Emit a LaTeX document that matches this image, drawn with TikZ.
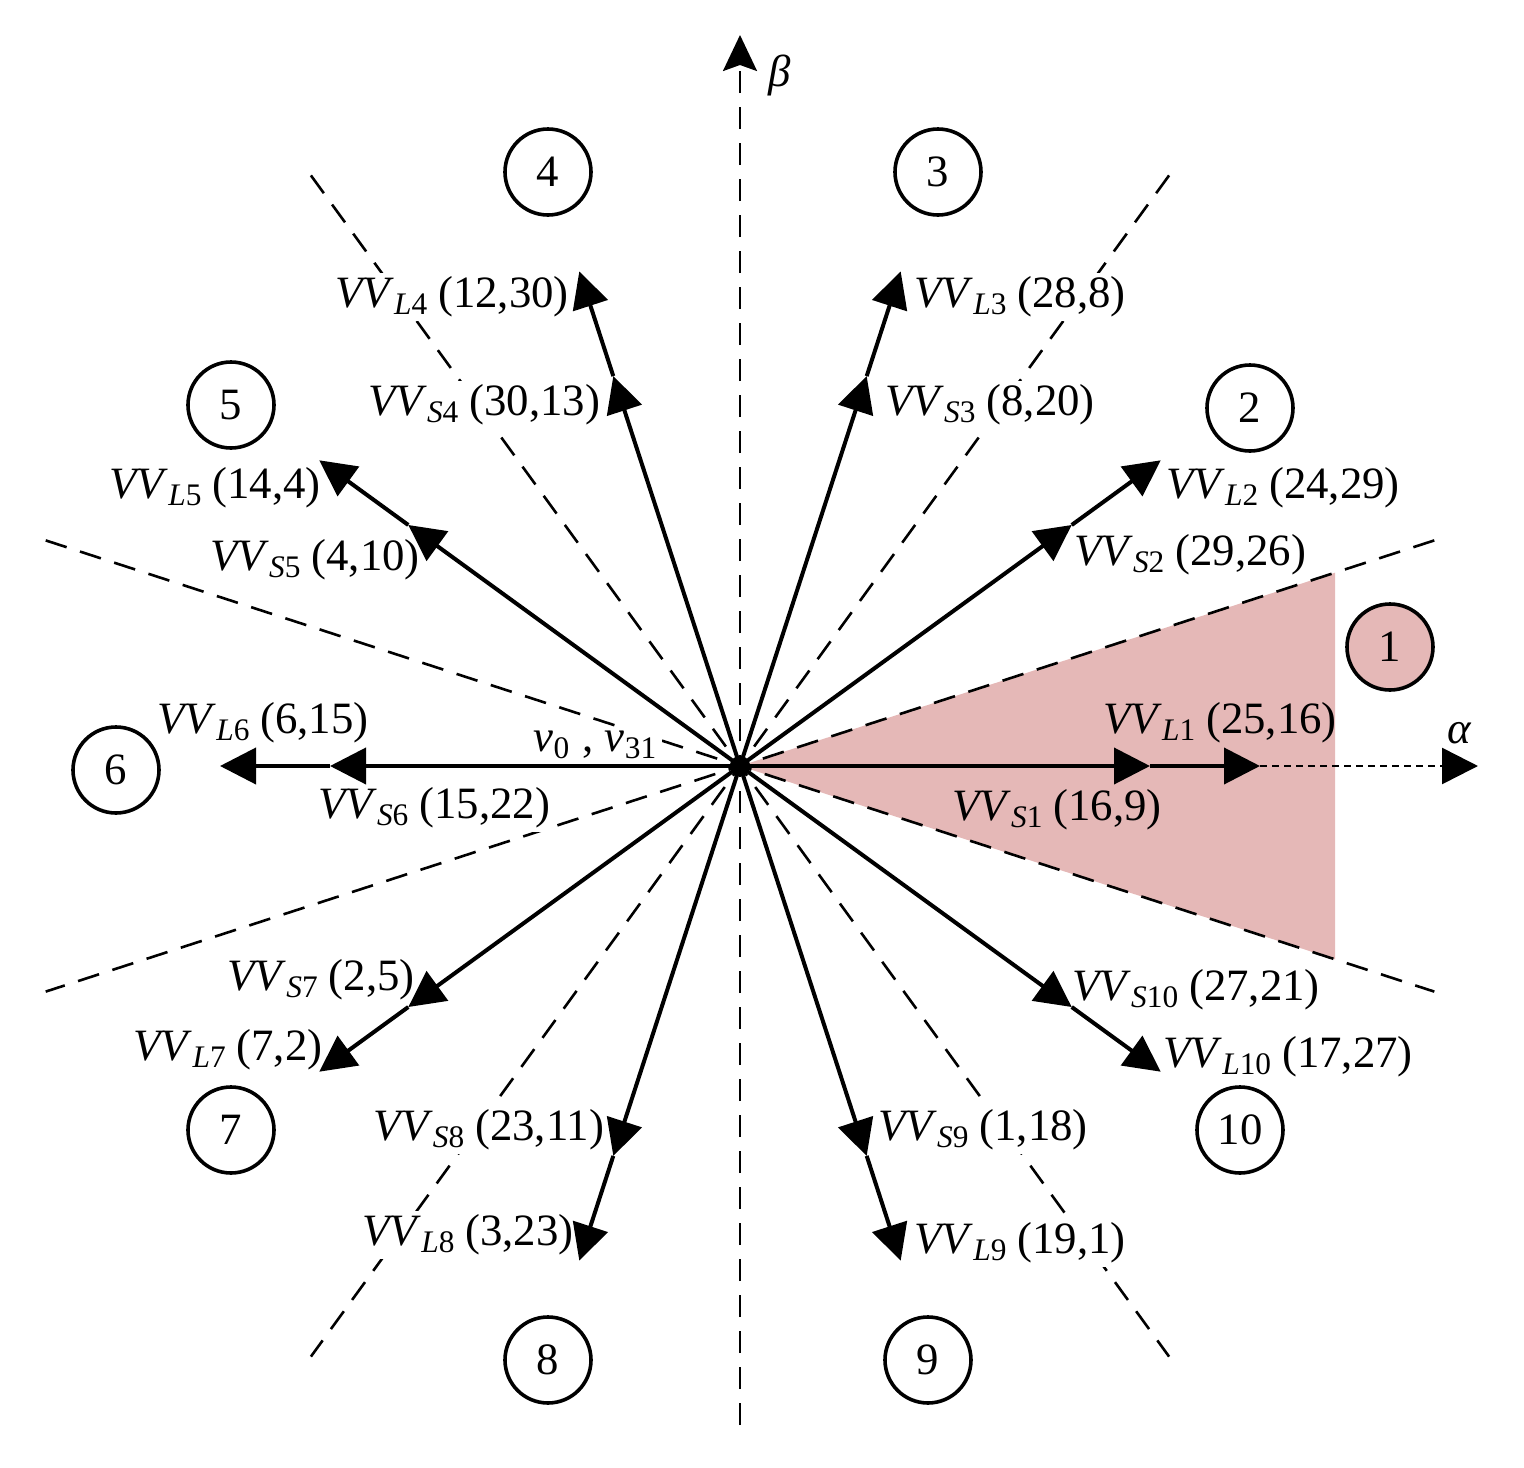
\documentclass[tikz,border=0pt]{standalone}
\usepackage{fontspec}
\setmainfont{Liberation Serif}
\usepackage{tikz}
\usetikzlibrary{arrows.meta}

\definecolor{sectorpink}{RGB}{229,184,183}
\newcommand{\vvlab}[3]{\textit{VV}\textsubscript{\textit{#1}#2}\hspace{0.2em}(#3)}

\begin{document}
\begin{tikzpicture}[x=0.25pt,y=0.25pt,yscale=-1,xscale=1,
    font=\fontsize{11.2}{13}\selectfont,
    vec/.style={line width=1pt,-{Triangle[length=9pt,width=9pt]}},
    sector/.style={line width=0.65pt,dash pattern=on 5.5pt off 3.5pt},
    lbl/.style={inner sep=1pt,fill=white},
    lblpink/.style={inner sep=1pt},
    num/.style={circle,draw,line width=0.9pt,minimum size=21.5pt,inner sep=0pt,fill=white}]
    \useasboundingbox (0,0) rectangle (1524,1468);

    % origin and vector tips
    \coordinate (O) at (740,766);
    \coordinate (S1) at (1150,766);      \coordinate (L1) at (1260,766);
    \coordinate (S2) at (1071.7,525.0);  \coordinate (L2) at (1160.7,460.3);
    \coordinate (S3) at (866.7,376.1);   \coordinate (L3) at (900.7,271.4);
    \coordinate (S4) at (613.3,376.1);   \coordinate (L4) at (579.3,271.4);
    \coordinate (S5) at (408.3,525.0);   \coordinate (L5) at (319.3,460.3);
    \coordinate (S6) at (330,766);       \coordinate (L6) at (220,766);
    \coordinate (S7) at (408.3,1007.0);  \coordinate (L7) at (319.3,1071.7);
    \coordinate (S8) at (613.3,1155.9);  \coordinate (L8) at (579.3,1260.6);
    \coordinate (S9) at (866.7,1155.9);  \coordinate (L9) at (900.7,1260.6);
    \coordinate (S10) at (1071.7,1007.0); \coordinate (L10) at (1160.7,1071.7);

    %Shape: Sector 1
    \fill[sectorpink] (O) -- (1335,572.7) -- (1335,959.3) -- cycle;

    %Dashed Lines: sector borders
    \coordinate (d18) at (1434.3,540.4);  \coordinate (d198) at (45.7,991.6);
    \coordinate (d54) at (1169.1,175.4);  \coordinate (d234) at (310.9,1356.6);
    \coordinate (d126) at (310.9,175.4);  \coordinate (d306) at (1169.1,1356.6);
    \coordinate (d162) at (45.7,540.4);   \coordinate (d342) at (1434.3,991.6);
    \draw[sector] (d18) -- (d198);
    \draw[sector] (d54) -- (d234);
    \draw[sector] (d126) -- (d306);
    \draw[sector] (d162) -- (d342);

    %Axes
    \coordinate (bstart) at (740,1425);
    \coordinate (bend) at (740,35);
    \coordinate (aend) at (1478,766);
    \draw[sector,-{Stealth[length=9pt,width=8.5pt,inset=1.5pt]}] (bstart) -- (bend);
    \draw[line width=0.65pt,dash pattern=on 1.8pt off 1.2pt,-{Triangle[length=9pt,width=9pt]}] (L1) -- (aend);

    % Text Node
    \node[lblpink] (tL1) at (1220,723) {\vvlab{L}{1}{25,16}};
    \node[lblpink] (tS1) at (1057,810) {\vvlab{S}{1}{16,9}};
    \node[lbl] (tL2) at (1283,488) {\vvlab{L}{2}{24,29}};
    \node[lbl] (tS2) at (1190,555) {\vvlab{S}{2}{29,26}};
    \node[lbl] (tL3) at (1020,297) {\vvlab{L}{3}{28,8}};
    \node[lbl] (tS3) at (990,405) {\vvlab{S}{3}{8,20}};
    \node[lbl] (tL4) at (452,297) {\vvlab{L}{4}{12,30}};
    \node[lbl] (tS4) at (484,405) {\vvlab{S}{4}{30,13}};
    \node[lbl] (tL5) at (215,488) {\vvlab{L}{5}{14,4}};
    \node[lbl] (tS5) at (315,560) {\vvlab{S}{5}{4,10}};
    \node[lbl] (tL6) at (263,723) {\vvlab{L}{6}{6,15}};
    \node[lbl] (tS6) at (434,808) {\vvlab{S}{6}{15,22}};
    \node[lbl] (tS7) at (321,980) {\vvlab{S}{7}{2,5}};
    \node[lbl] (tL7) at (228,1050) {\vvlab{L}{7}{7,2}};
    \node[lbl] (tS8) at (489,1130) {\vvlab{S}{8}{23,11}};
    \node[lbl] (tL8) at (468,1235) {\vvlab{L}{8}{3,23}};
    \node[lbl] (tS9) at (983,1130) {\vvlab{S}{9}{1,18}};
    \node[lbl] (tL9) at (1020,1243) {\vvlab{L}{9}{19,1}};
    \node[lbl] (tS10) at (1196,990) {\vvlab{S}{10}{27,21}};
    \node[lbl] (tL10) at (1288,1057) {\vvlab{L}{10}{17,27}};
    \node[lbl] (tzero) at (596,745) {\textit{v}\textsubscript{0} , \textit{v}\textsubscript{31}};
    \node[inner sep=1pt] (talpha) at (1460,733) {\textit{α}};
    \node[inner sep=1pt] (tbeta) at (780,75) {\textit{β}};

    %Arrows: short and long vectors
    \draw[vec] (O) -- (S1);  \draw[vec] (S1) -- (L1);
    \draw[vec] (O) -- (S2);  \draw[vec] (S2) -- (L2);
    \draw[vec] (O) -- (S3);  \draw[vec] (S3) -- (L3);
    \draw[vec] (O) -- (S4);  \draw[vec] (S4) -- (L4);
    \draw[vec] (O) -- (S5);  \draw[vec] (S5) -- (L5);
    \draw[vec] (O) -- (S6);  \draw[vec] (S6) -- (L6);
    \draw[vec] (O) -- (S7);  \draw[vec] (S7) -- (L7);
    \draw[vec] (O) -- (S8);  \draw[vec] (S8) -- (L8);
    \draw[vec] (O) -- (S9);  \draw[vec] (S9) -- (L9);
    \draw[vec] (O) -- (S10); \draw[vec] (S10) -- (L10);

    %Shape: Circle
    \node[num,fill=sectorpink] (n1) at (1390,647) {1};
    \node[num] (n2) at (1250,408) {2};
    \node[num] (n3) at (938,172) {3};
    \node[num] (n4) at (548,172) {4};
    \node[num] (n5) at (231,405) {5};
    \node[num] (n6) at (116,770) {6};
    \node[num] (n7) at (231,1130) {7};
    \node[num] (n8) at (548,1360) {8};
    \node[num] (n9) at (928,1360) {9};
    \node[num] (n10) at (1240,1130) {10};

\end{tikzpicture}
\end{document}
